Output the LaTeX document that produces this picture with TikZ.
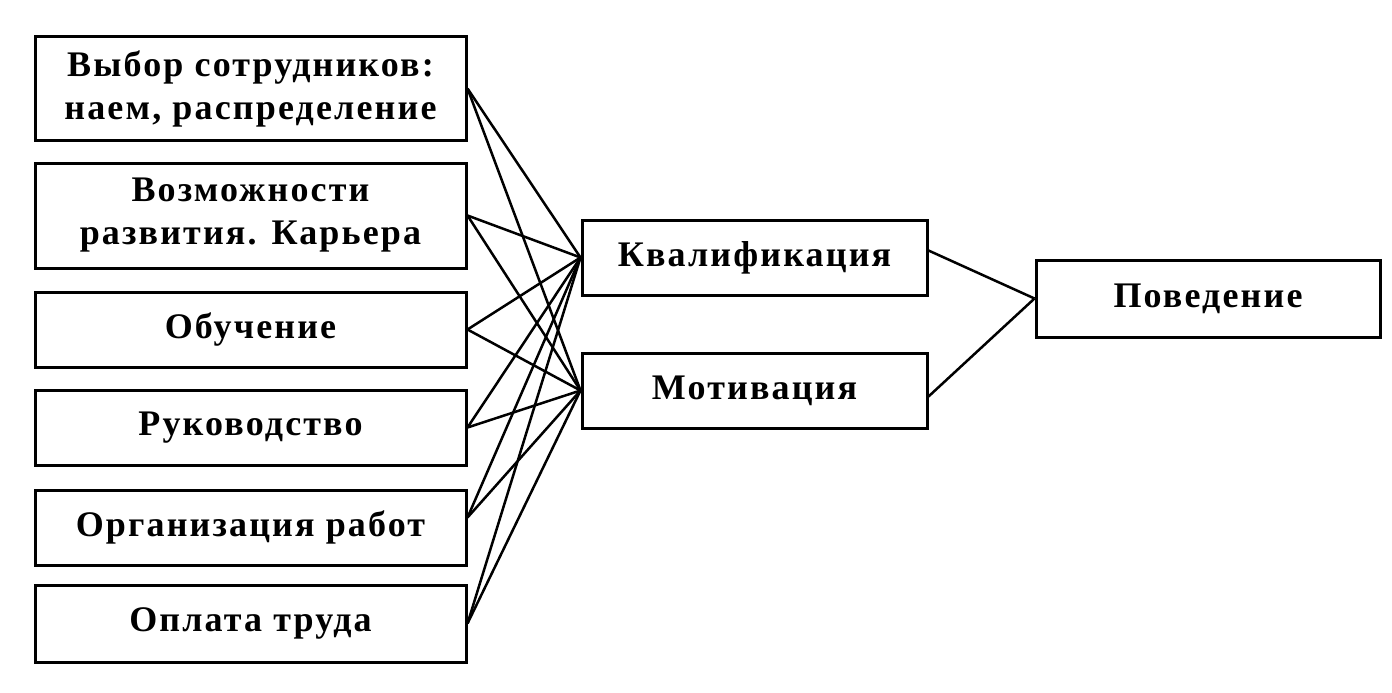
\documentclass[tikz,border=0pt]{standalone}
\usepackage{fontspec}
\setmainfont{Liberation Serif}[LetterSpace=6]
\begin{document}
\begin{tikzpicture}[x=1pt,y=-1pt,
  box/.style={draw,line width=3pt,rectangle,inner sep=0pt,align=center,font=\fontsize{36}{39}\selectfont\bfseries},
  lbox/.style={box,minimum width=431pt},
  mbox/.style={box,minimum width=345pt,minimum height=75pt},
  link/.style={line width=2.5pt}]
\path[use as bounding box] (0,0) rectangle (1392,693);
\node[lbox,minimum height=103pt] (b1) at (250.5,88.5) {Выбор сотрудников:\\[4pt]наем, распределение};
\node[lbox,minimum height=105pt] (b2) at (250.5,215.5) {Возможности\\[4pt]развития. Карьера};
\node[lbox,minimum height=75pt] (b3) at (250.5,329.5) {Обучение};
\node[lbox,minimum height=75pt] (b4) at (250.5,427.5) {Руководство};
\node[lbox,minimum height=75pt] (b5) at (250.5,527.5) {Организация работ};
\node[lbox,minimum height=77pt] (b6) at (250.5,623.5) {Оплата труда};
\node[mbox] (k) at (754.5,257.5) {Квалификация};
\node[mbox] (m) at (754.5,390.5) {Мотивация};
\node[box,minimum width=344pt,minimum height=77pt] (p) at (1208,298.5) {Поведение};
\coordinate (s1) at (b1.east);
\coordinate (s2) at (b2.east);
\coordinate (s3) at (b3.east);
\coordinate (s4) at (b4.east);
\coordinate (s5) at ([yshift=10pt]b5.east);
\coordinate (s6) at (b6.east);
\foreach \s in {s1,s2,s3,s4,s5,s6}{
  \draw[link] (\s) -- (k.west);
  \draw[link] (\s) -- (m.west);
}
\draw[link] ([yshift=7pt]k.east) -- (p.west);
\draw[link] ([yshift=-6pt]m.east) -- (p.west);
\end{tikzpicture}
\end{document}
